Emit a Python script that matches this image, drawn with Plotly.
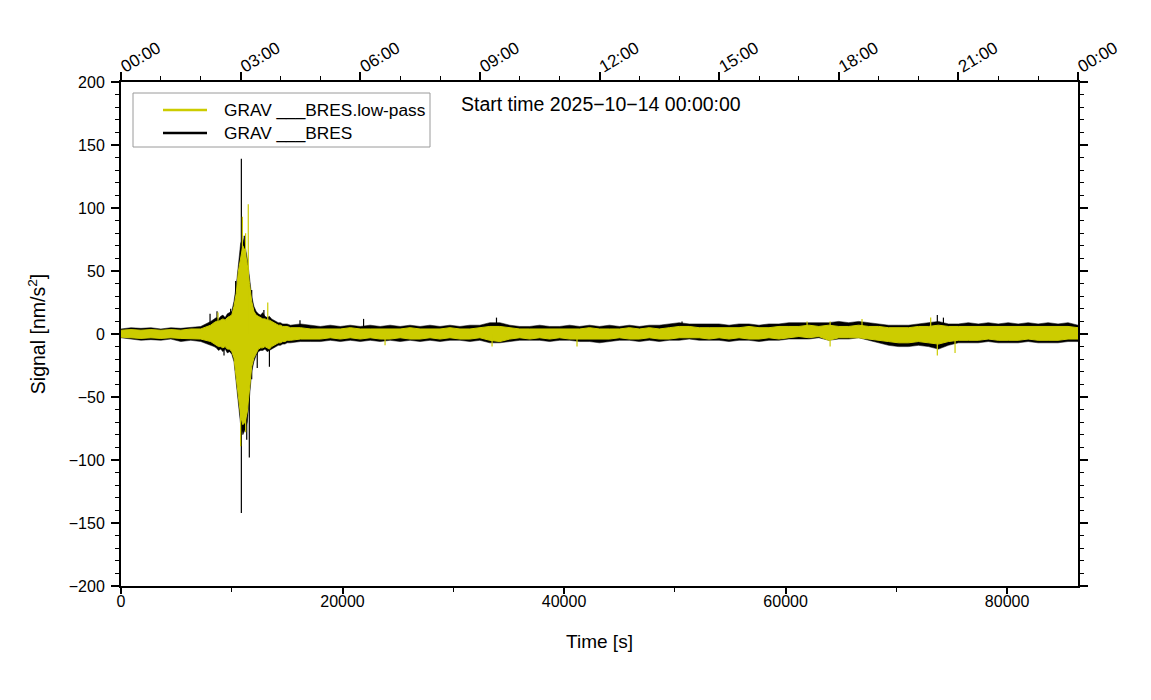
import numpy as np
import plotly.graph_objects as go

# ---------------- data (envelopes) ----------------
# time bins [s]
t_a = np.arange(0, 8101, 900)        # quiet start
t_q = np.arange(8400, 15001, 200)    # earthquake
t_b = np.arange(15300, 86401, 900)   # rest of the day

raw_hi_a = [4, 5, 4.5, 5, 4, 5, 4.5, 5, 6, 10]
raw_lo_a = [-3, -4, -5, -4.5, -5, -4, -6, -5, -6, -9]
lp_hi_a = [3, 3.5, 3, 3.5, 3, 3.5, 3, 4, 4, 7]
lp_lo_a = [-2.5, -3, -3.5, -3, -3.5, -3, -3.5, -4, -4, -6]

raw_hi_q = [12, 13, 12, 14, 15, 13, 16, 17, 18, 26, 38, 55, 72, 76, 70, 60, 45,
            30, 22, 18, 16, 15, 17, 14, 13, 14, 12, 11, 10, 9, 9, 8, 8, 8]
raw_lo_q = [-10, -11, -13, -12, -14, -12, -15, -14, -16, -22, -36, -55, -72, -80,
            -76, -70, -48, -30, -22, -17, -14, -13, -13, -12, -14, -13, -12, -11,
            -10, -9, -9, -8, -8, -7]
lp_hi_q = [9, 10, 10, 11, 12, 11, 13, 14, 15, 22, 32, 50, 62, 70, 66, 55, 40,
           26, 18, 15, 14, 13, 12, 12, 11, 11, 10, 9, 8, 7, 7, 6, 6, 6]
lp_lo_q = [-8, -9, -10, -10, -11, -10, -12, -12, -14, -19, -32, -50, -65, -72,
           -70, -62, -42, -26, -19, -15, -12, -11, -11, -10, -11, -12, -10, -9,
           -8, -7, -7, -6, -6, -5]

raw_hi_b = [7, 8, 7, 6, 7, 6, 7, 6, 7, 6, 7, 6, 7, 6, 7, 6, 7, 6, 7, 7,
            9, 9, 7, 6, 6, 7, 6, 6, 7, 6, 7, 6, 7, 6, 7, 6, 7, 7, 8, 9,
            8, 8, 8, 8, 7, 8, 8, 7, 8, 8, 9, 9, 9, 9, 9, 10, 9, 10, 9, 8,
            7, 7, 7, 8, 9, 10, 8, 8, 9, 8, 9, 8, 9, 8, 9, 8, 9, 8, 9, 7]
raw_lo_b = [-7, -6, -6, -6, -5, -6, -5, -6, -5, -6, -5, -6, -5, -6, -5, -6, -5, -5, -6, -5,
            -7, -7, -6, -5, -5, -5, -6, -5, -5, -6, -6, -7, -6, -5, -5, -6, -5, -6, -5, -5,
            -4, -5, -5, -5, -6, -5, -5, -6, -5, -5, -4, -4, -4, -3, -5, -4, -4, -3, -5, -7,
            -9, -10, -10, -9, -10, -12, -9, -7, -7, -7, -6, -7, -7, -7, -6, -7, -7, -7, -6, -6]
lp_hi_b = [5, 5, 4, 4, 4, 4, 5, 4, 4, 4, 4, 4, 5, 4, 4, 4, 5, 4, 4, 5,
           6, 6, 5, 4, 4, 4, 4, 4, 4, 4, 5, 4, 4, 4, 5, 4, 5, 4, 5, 6,
           6, 5, 5, 5, 5, 5, 6, 5, 5, 6, 6, 6, 7, 6, 7, 6, 6, 7, 6, 6,
           5, 5, 5, 6, 6, 7, 6, 6, 6, 6, 6, 6, 6, 6, 6, 6, 6, 6, 6, 5]
lp_lo_b = [-5, -4, -4, -4, -3, -4, -3, -4, -3, -4, -4, -3, -4, -4, -3, -4, -3, -4, -4, -3,
           -5, -6, -4, -3, -4, -3, -4, -3, -4, -4, -4, -4, -4, -3, -4, -4, -3, -4, -4, -3,
           -3, -3, -4, -3, -4, -3, -4, -4, -3, -4, -3, -2, -3, -2, -5, -3, -3, -3, -4, -5,
           -6, -7, -7, -6, -7, -8, -6, -5, -5, -5, -4, -5, -5, -5, -4, -5, -5, -5, -4, -4]

# isolated spikes: time [s], upper and lower extreme [nm/s^2]
raw_spike_t = [8040, 8670, 9300, 9900, 10350, 10530, 10866, 11130, 11350, 11585,
               11800, 12300, 12900, 13400, 16160, 21900, 33900, 50650, 73700, 74250]
raw_spike_hi = [16, 18, 0, 20, 42, 0, 139, 78, 0, 0, 35, 0, 19, 0, 11, 12, 13, 10, 15, 13]
raw_spike_lo = [0, 0, -17, 0, 0, -44, -142, 0, -84, -98, -36, -27, 0, -26, 0, 0, 0, 0, 0, 0]

lp_spike_t = [8760, 10800, 10960, 11250, 11490, 13250, 23840, 33500, 41170, 61940,
              64020, 66900, 73100, 73700, 75300]
lp_spike_hi = [17, 0, 93, 80, 103, 25, 0, 0, 0, 10, 10, 12, 13, 0, 0]
lp_spike_lo = [0, -89, 0, -78, 0, 0, -9, -10, -10, 0, -10, 0, 0, -17, -15]

top_tick_s = [0, 10800, 21600, 32400, 43200, 54000, 64800, 75600, 86400]
top_tick_txt = ["00:00", "03:00", "06:00", "09:00", "12:00", "15:00", "18:00", "21:00", "00:00"]

names = ["GRAV ___BRES.low-pass", "GRAV ___BRES"]
title_txt = "Start time 2025\u221210\u221214 00:00:00"

YEL = "rgb(204,204,0)"
FONT = "Liberation Sans"

# ---------------- build ----------------
t_env = np.concatenate([t_a, t_q, t_b]).tolist()
raw_hi = raw_hi_a + raw_hi_q + raw_hi_b
raw_lo = raw_lo_a + raw_lo_q + raw_lo_b
lp_hi = lp_hi_a + lp_hi_q + lp_hi_b
lp_lo = lp_lo_a + lp_lo_q + lp_lo_b


def band(t, hi, lo):
    return t + t[::-1], hi + lo[::-1]


def spikes(t, hi, lo):
    xs, ys = [], []
    for ti, h, l in zip(t, hi, lo):
        xs += [ti, ti, None]
        ys += [l, h, None]
    return xs, ys


fig = go.Figure()
bx, by = band(t_env, raw_hi, raw_lo)
fig.add_trace(go.Scatter(x=bx, y=by, fill="toself", fillcolor="black",
                         mode="lines", line=dict(color="black", width=0.5),
                         showlegend=False, hoverinfo="skip"))
sx, sy = spikes(raw_spike_t, raw_spike_hi, raw_spike_lo)
fig.add_trace(go.Scatter(x=sx, y=sy, mode="lines", line=dict(color="black", width=1.2),
                         showlegend=False, hoverinfo="skip"))
yx, yy = band(t_env, lp_hi, lp_lo)
fig.add_trace(go.Scatter(x=yx, y=yy, fill="toself", fillcolor=YEL,
                         mode="lines", line=dict(color=YEL, width=1),
                         showlegend=False, hoverinfo="skip"))
sx, sy = spikes(lp_spike_t, lp_spike_hi, lp_spike_lo)
fig.add_trace(go.Scatter(x=sx, y=sy, mode="lines", line=dict(color=YEL, width=1.2),
                         showlegend=False, hoverinfo="skip"))
# dummy trace so the top/right axes are drawn
fig.add_trace(go.Scatter(x=[None], y=[None], xaxis="x2", yaxis="y2",
                         showlegend=False, hoverinfo="skip"))

tickfont = dict(family=FONT, size=16, color="black")
common = dict(showline=True, linecolor="black", linewidth=2, ticks="outside",
              tickcolor="black", showgrid=False, zeroline=False,
              automargin=False)

# the page adds an 8 px body margin, so the figure is 8 px smaller
W, H = 1143, 692
ML, MR, MT, MB = 113, 73, 74, 114

fig.update_layout(
    width=W, height=H,
    margin=dict(l=ML, r=MR, t=MT, b=MB, autoexpand=False),
    paper_bgcolor="white", plot_bgcolor="white",
    showlegend=False,
    xaxis=dict(range=[0, 86400], tickmode="linear", tick0=0, dtick=20000,
               tickformat="d", ticklen=6, tickwidth=1.5, tickfont=tickfont,
               ticklabelstandoff=-6,
               minor=dict(tickmode="linear", tick0=0, dtick=10000, ticklen=4,
                          tickwidth=1, tickcolor="black", ticks="outside"),
               title=dict(text="Time [s]", font=dict(family=FONT, size=19, color="black"),
                          standoff=25),
               **common),
    xaxis2=dict(range=[0, 86400], overlaying="x", side="top", anchor="y",
                tickmode="array", tickvals=top_tick_s, ticktext=top_tick_txt,
                tickangle=-31, ticklen=8, tickwidth=1.5,
                tickfont=dict(family=FONT, size=17, color="black"),
                ticklabelstandoff=-9,
                minor=dict(tickmode="linear", tick0=0, dtick=3600, ticklen=4,
                           tickwidth=1, tickcolor="black", ticks="outside"),
                **common),
    yaxis=dict(range=[-200, 200], tickmode="linear", tick0=0, dtick=50,
               ticklen=8, tickwidth=1.5, ticklabelstandoff=3, tickfont=tickfont,
               minor=dict(tickmode="linear", tick0=0, dtick=10, ticklen=4,
                          tickwidth=1, tickcolor="black", ticks="outside"),
               title=dict(text="Signal [nm/s<sup>2</sup>]",
                          font=dict(family=FONT, size=19.5, color="black"), standoff=18),
               **common),
    yaxis2=dict(range=[-200, 200], overlaying="y", side="right", anchor="x",
                tickmode="linear", tick0=0, dtick=50, showticklabels=False,
                ticklen=8, tickwidth=1.5,
                minor=dict(tickmode="linear", tick0=0, dtick=10, ticklen=4,
                           tickwidth=1, tickcolor="black", ticks="outside"),
                **common),
)

# ---- legend box (drawn manually to match the GMT legend) ----
PW = W - ML - MR
PH = H - MT - MB


def px_x(p):
    return (p - 8 - ML) / PW


def px_y(p):
    return 1 - (p - 8 - MT) / PH


fig.add_shape(type="rect", xref="paper", yref="paper",
              x0=px_x(133), x1=px_x(430), y0=px_y(147), y1=px_y(93),
              line=dict(color="#9a9a9a", width=1), fillcolor="white", layer="above")
for i, (nm, col) in enumerate(zip(names, [YEL, "black"])):
    yrow = 110 + 23 * i
    fig.add_shape(type="line", xref="paper", yref="paper",
                  x0=px_x(163), x1=px_x(207), y0=px_y(yrow), y1=px_y(yrow),
                  line=dict(color=col, width=2.5), layer="above")
    fig.add_annotation(xref="paper", yref="paper", x=px_x(222), y=px_y(yrow),
                       xanchor="left", yanchor="middle", showarrow=False, text=nm,
                       font=dict(family=FONT, size=17.3, color="black"))

fig.add_annotation(xref="paper", yref="paper", x=px_x(459), y=px_y(104),
                   xanchor="left", yanchor="middle", showarrow=False, text=title_txt,
                   font=dict(family=FONT, size=19.5, color="black"))

fig.write_html("out.html")
